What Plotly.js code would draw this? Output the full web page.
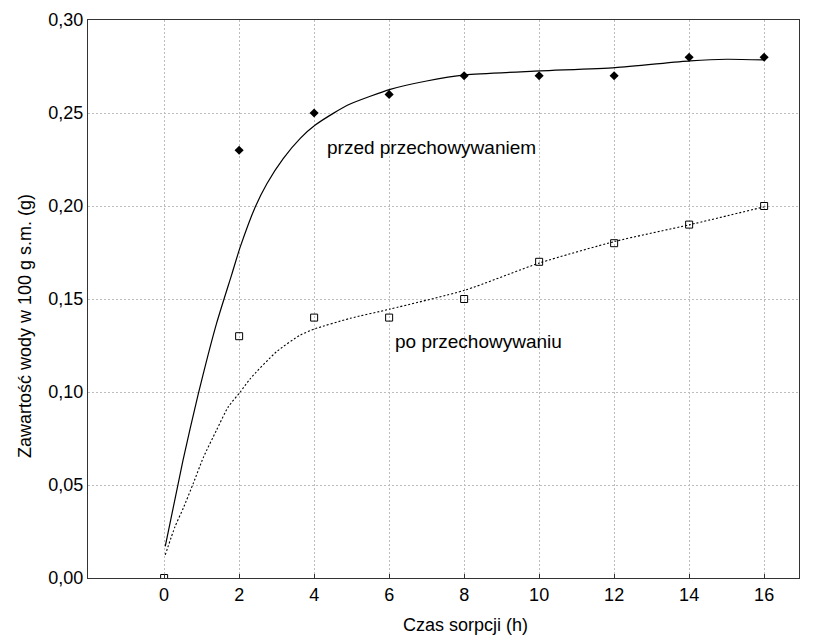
<!DOCTYPE html>
<html><head><meta charset="utf-8">
<script src="https://cdn.plot.ly/plotly-3.0.1.min.js"></script>
<style>html,body{margin:0;padding:0;background:#fff;}</style>
</head><body>
<div id="chart" style="width:829px;height:639px;"></div>
<script>
// measured data points
var timeH = [0, 2, 4, 6, 8, 10, 12, 14, 16];
var przedX = [2, 4, 6, 8, 10, 12, 14, 16];
var przedY = [0.23, 0.25, 0.26, 0.27, 0.27, 0.27, 0.28, 0.28];
var poY = [0.00, 0.13, 0.14, 0.14, 0.15, 0.17, 0.18, 0.19, 0.20];
// fitted curves
var przedFitX = [0.03, 0.5, 0.9, 1.4, 1.8, 2.03, 2.43, 2.74, 3.18, 3.63, 4.03, 4.51, 4.96, 6.03, 7.0, 8.03, 10.03, 12.03, 14.03, 15.0, 16.03];
var przedFitY = [0.017, 0.063, 0.098, 0.137, 0.163, 0.178, 0.1995, 0.212, 0.2256, 0.2364, 0.2435, 0.2498, 0.2548, 0.2627, 0.2672, 0.2705, 0.2726, 0.2744, 0.278, 0.2789, 0.2785];
var poFitX = [0.03, 0.29, 0.51, 0.78, 1.05, 1.4, 1.71, 2.03, 2.29, 3.0, 3.63, 4.03, 4.96, 6.03, 8.03, 10.03, 12.03, 14.03, 16.03];
var poFitY = [0.0124, 0.0276, 0.0375, 0.051, 0.065, 0.0796, 0.092, 0.100, 0.107, 0.1217, 0.1306, 0.134, 0.1396, 0.1446, 0.1548, 0.1695, 0.181, 0.190, 0.1997];
var xTicks = [0, 2, 4, 6, 8, 10, 12, 14, 16];
var labelPrzed = "przed przechowywaniem";
var labelPo = "po przechowywaniu";
var xTitle = "Czas sorpcji (h)";
var yTitle = "Zawartość wody w 100 g s.m. (g)";

var traces = [
  {x: przedFitX, y: przedFitY, mode: 'lines', line: {color: '#000', width: 1.2, shape: 'spline', smoothing: 0.6}, hoverinfo: 'skip'},
  {x: poFitX, y: poFitY, mode: 'lines', line: {color: '#000', width: 1.1, dash: '2px,2px', shape: 'spline', smoothing: 0.6}, hoverinfo: 'skip'},
  {x: timeH, y: poY, mode: 'markers', marker: {symbol: 'square-open', size: 7, color: '#000', line: {width: 1}}},
  {x: przedX, y: przedY, mode: 'markers', marker: {symbol: 'diamond', size: 7, color: '#000'}}
];

var fam = 'Liberation Sans, Arial, sans-serif';
var tickFont = {family: fam, size: 18, color: '#000'};
var titleFont = {family: fam, size: 18, color: '#000'};
var annFont = {family: fam, size: 19, color: '#000'};
var layout = {
  width: 829, height: 639,
  margin: {l: 88, r: 30, t: 20, b: 61},
  showlegend: false,
  separators: ',.',
  paper_bgcolor: '#fff', plot_bgcolor: '#fff',
  font: tickFont,
  xaxis: {
    range: [-2.03, 16.93], tickvals: xTicks, ticktext: xTicks.map(String),
    showgrid: true, gridcolor: '#bdbdbd', griddash: '2px,2px', gridwidth: 1,
    showline: true, linecolor: '#333', linewidth: 1, mirror: true,
    ticks: 'inside', ticklen: 4, tickcolor: '#333', zeroline: false,
    tickfont: tickFont
  },
  yaxis: {
    range: [0, 0.30], dtick: 0.05, tick0: 0, tickformat: '.2f',
    showgrid: true, gridcolor: '#bdbdbd', griddash: '2px,2px', gridwidth: 1,
    showline: true, linecolor: '#333', linewidth: 1, mirror: true,
    ticks: '', zeroline: false,
    tickfont: tickFont
  },
  annotations: [
    {x: 4.293, y: 0.2312, xref: 'x', yref: 'y', text: labelPrzed, showarrow: false, xanchor: 'left', yanchor: 'middle', font: annFont},
    {x: 6.115, y: 0.1269, xref: 'x', yref: 'y', text: labelPo, showarrow: false, xanchor: 'left', yanchor: 'middle', font: annFont},
    {x: 0.5316, y: -0.0842, xref: 'paper', yref: 'paper', text: xTitle, showarrow: false, xanchor: 'center', yanchor: 'middle', font: titleFont},
    {x: -0.0886, y: 0.4516, xref: 'paper', yref: 'paper', text: yTitle, showarrow: false, textangle: -90, xanchor: 'center', yanchor: 'middle', font: titleFont}
  ]
};
Plotly.newPlot('chart', traces, layout, {displayModeBar: false, staticPlot: true});
</script>
</body></html>
